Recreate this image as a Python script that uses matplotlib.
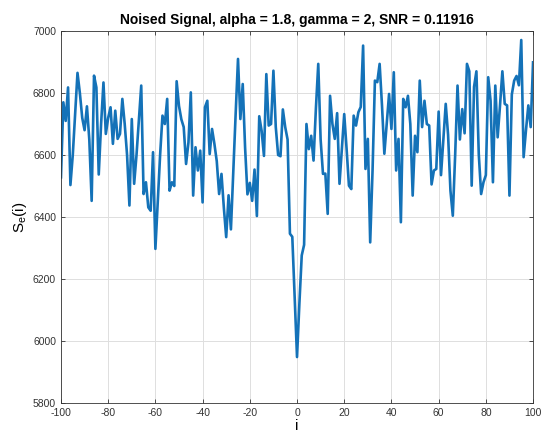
import matplotlib
matplotlib.use('Agg')
import matplotlib.pyplot as plt
import numpy as np

plt.rcParams['font.family'] = ['Liberation Sans', 'DejaVu Sans']
plt.rcParams['axes.unicode_minus'] = False

# sample index and noised signal values
idx = np.arange(-100, 101)
signal = [
  6528, 6770, 6710, 6818, 6503, 6600, 6730, 6865, 6800, 6720,
  6680, 6757, 6650, 6452, 6856, 6818, 6537, 6700, 6834, 6668,
  6720, 6754, 6636, 6743, 6652, 6668, 6781, 6700, 6600, 6437,
  6716, 6507, 6600, 6710, 6824, 6474, 6512, 6431, 6420, 6609,
  6297, 6450, 6600, 6727, 6700, 6781, 6485, 6512, 6500, 6838,
  6758, 6715, 6690, 6571, 6640, 6802, 6469, 6625, 6550, 6614,
  6447, 6754, 6775, 6603, 6684, 6636, 6580, 6474, 6539, 6430,
  6335, 6470, 6360, 6550, 6732, 6910, 6716, 6829, 6624, 6473,
  6510, 6452, 6553, 6403, 6725, 6678, 6597, 6861, 6695, 6700,
  6872, 6690, 6600, 6596, 6747, 6690, 6650, 6346, 6336, 6140,
  5948, 6120, 6276, 6310, 6700, 6619, 6662, 6582, 6750, 6894,
  6650, 6539, 6540, 6410, 6791, 6700, 6652, 6735, 6507, 6620,
  6732, 6620, 6501, 6490, 6727, 6695, 6738, 6755, 6953, 6555,
  6652, 6318, 6550, 6840, 6835, 6894, 6760, 6604, 6700, 6797,
  6684, 6867, 6550, 6652, 6383, 6781, 6754, 6791, 6700, 6469,
  6662, 6609, 6840, 6690, 6775, 6700, 6695, 6505, 6550, 6555,
  6740, 6535, 6650, 6765, 6665, 6485, 6404, 6600, 6824, 6650,
  6748, 6670, 6894, 6870, 6501, 6820, 6870, 6603, 6474, 6512,
  6535, 6851, 6775, 6512, 6824, 6657, 6760, 6870, 6765, 6760,
  6469, 6795, 6840, 6855, 6825, 6971, 6593, 6680, 6760, 6690,
  6899,
]
xticks = np.arange(-100, 101, 20)
yticks = np.arange(5800, 7001, 200)

fig = plt.figure(figsize=(5.42, 4.37), dpi=100)
ax = fig.add_axes([0.1125, 0.078, 0.871, 0.851])

ax.plot(idx, signal, color='#1472b8', linewidth=1.9)

ax.set_xlim(-100, 100)
ax.set_ylim(5800, 7000)
ax.set_xticks(xticks)
ax.set_yticks(yticks)
ax.grid(True, color='#dedede', linewidth=0.7)
ax.set_axisbelow(True)
ax.tick_params(direction='in', top=True, right=True, labelsize=7.5,
               colors='#333333', length=3, width=0.6)
for s in ax.spines.values():
  s.set_color('#333333')
  s.set_linewidth(0.6)

ax.set_title('Noised Signal, alpha = 1.8, gamma = 2, SNR = 0.11916',
             fontsize=10, fontweight='bold', pad=5)
ax.set_xlabel('i', fontsize=11, labelpad=1)
ax.set_ylabel(r'S$_\mathregular{e}$(i)', fontsize=11, labelpad=3)

fig.savefig('out.png', dpi=100)
